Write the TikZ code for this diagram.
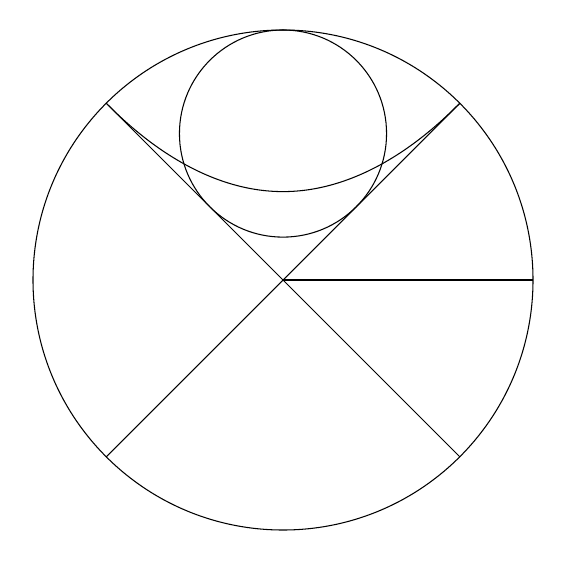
\documentclass[tikz,border=0pt]{standalone}
\usepackage{tikz}
\usetikzlibrary{calc}

\begin{document}
\begin{tikzpicture}[
  line/.style={draw=black, line width=0.6pt}
]
\useasboundingbox (-5.66,-5.6) rectangle (5.64,5.6);
\coordinate (o) at (0,0);
\coordinate (ne) at (45:5);
\coordinate (nw) at (135:5);
\coordinate (se) at (-45:5);
\coordinate (sw) at (-135:5);
\coordinate (e) at (0:5);
\coordinate (vertex) at (0,1.7678);
\coordinate (c) at (0,2.9289);
% outer and inner circles
\draw[line] (o) circle (5);
\draw[line] (c) circle (2.0711);
% diagonals and radius
\draw[line] (nw) -- (se);
\draw[line] (ne) -- (sw);
\draw[line] (o) -- (e);
% parabola
\draw[line] (nw) parabola bend (vertex) (ne);
\end{tikzpicture}
\end{document}
